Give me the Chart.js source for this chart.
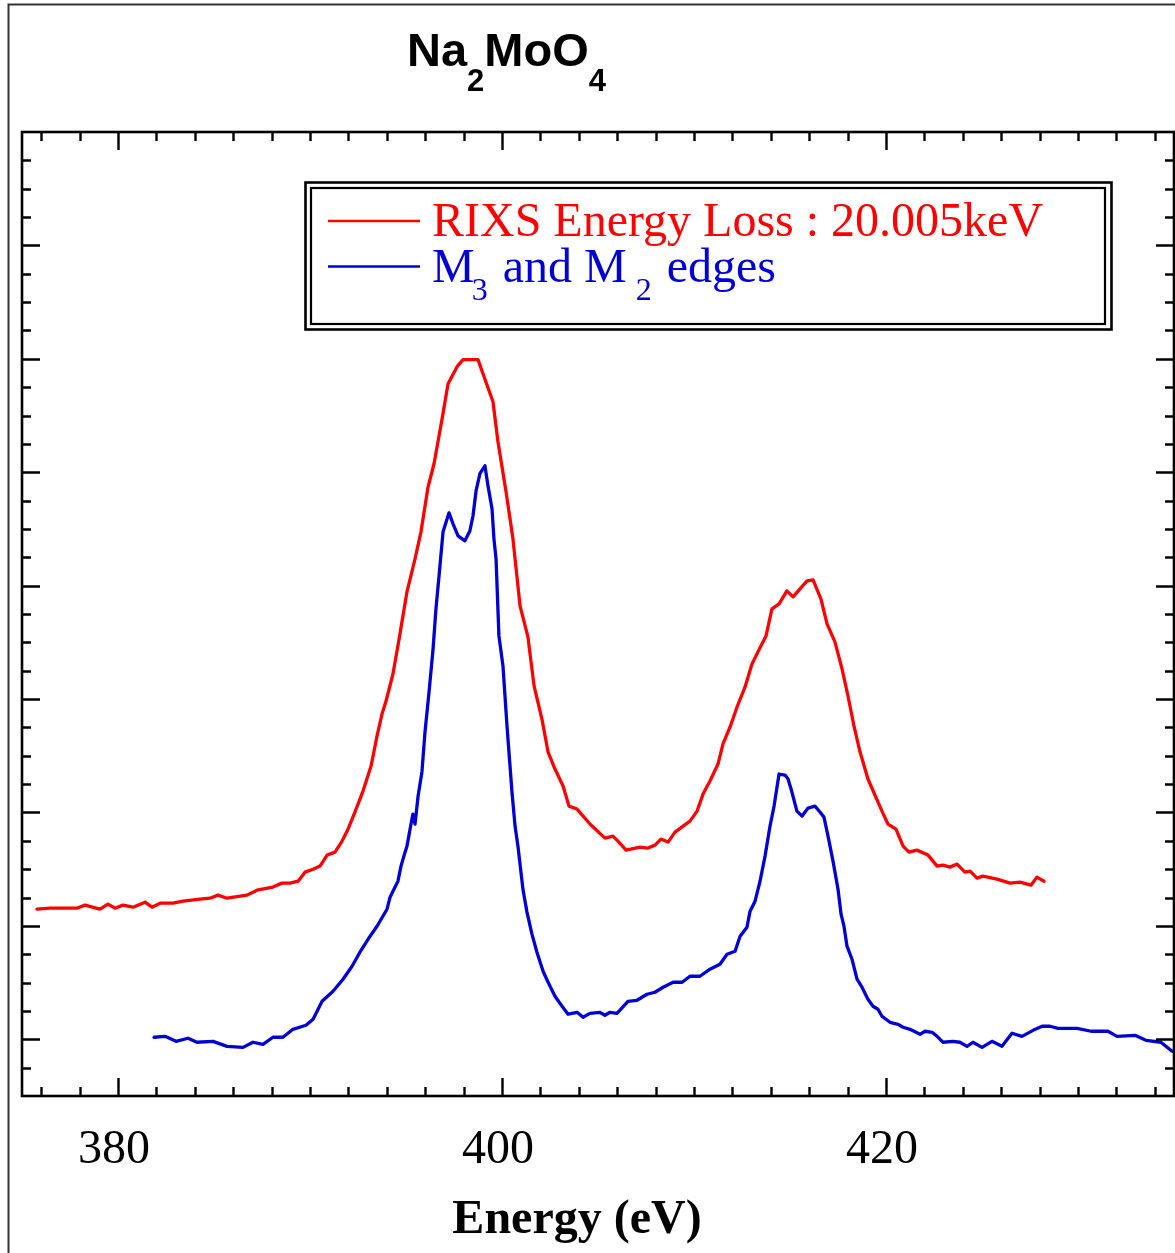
<!DOCTYPE html>
<html>
<head>
<meta charset="utf-8">
<script src="https://cdn.jsdelivr.net/npm/chart.js@4.4.1/dist/chart.umd.min.js"></script>
<style>
html,body{margin:0;padding:0;background:#fff;}
#wrap{position:relative;width:1175px;height:1253px;}
</style>
</head>
<body>
<div id="wrap"><canvas id="c" width="1175" height="1253"></canvas></div>
<script>
// ---- data ----
const titleMain = ["Na", "MoO"];
const titleSubs = ["2", "4"];
const xLabel = "Energy (eV)";
const xTickLabels = [380, 400, 420];
const legendRed = "RIXS Energy Loss : 20.005keV";

const redEnergy = [375.78,376.46,377.86,378.28,379.06,379.48,379.84,380.26,380.78,381.41,381.77,382.19,382.86,383.39,384.27,384.79,385.21,385.68,386.72,387.24,388.07,388.54,388.96,389.38,389.74,390.16,390.52,390.89,391.30,391.67,391.98,392.34,392.76,393.18,393.49,393.75,393.96,394.32,394.64,395.05,395.47,395.78,396.15,396.46,396.88,397.19,397.66,397.97,398.75,399.53,399.79,400.21,400.57,400.94,401.35,401.67,402.08,402.40,402.76,403.18,403.49,403.91,404.58,405.36,405.78,406.04,406.46,407.19,407.60,407.97,408.28,408.65,409.01,409.43,409.79,410.16,410.47,410.83,411.25,411.51,411.88,412.24,412.66,413.02,413.33,413.75,414.06,414.43,414.84,415.16,415.52,415.89,416.20,416.61,416.93,417.34,417.71,418.02,418.33,418.65,419.06,419.79,420.10,420.52,420.89,421.20,421.61,422.19,422.66,422.97,423.33,423.70,424.11,424.38,424.74,425.05,425.78,426.46,426.98,427.55,427.86,428.23];
const redIntensity = [1.147,1.156,1.156,1.183,1.147,1.192,1.156,1.183,1.165,1.209,1.165,1.200,1.200,1.218,1.236,1.244,1.271,1.244,1.271,1.315,1.342,1.377,1.377,1.394,1.474,1.500,1.527,1.624,1.650,1.748,1.853,2.004,2.189,2.409,2.674,2.868,2.983,3.221,3.530,3.945,4.236,4.475,4.872,5.075,5.472,5.781,5.931,5.993,5.993,5.622,5.269,4.828,4.413,3.822,3.548,3.116,2.824,2.533,2.383,2.233,2.056,2.030,1.898,1.774,1.792,1.748,1.668,1.695,1.686,1.712,1.765,1.739,1.827,1.880,1.924,2.012,2.162,2.277,2.427,2.604,2.754,2.930,3.107,3.310,3.416,3.557,3.795,3.839,3.954,3.901,3.972,4.042,4.051,3.883,3.663,3.504,3.266,3.027,2.763,2.533,2.295,2.012,1.898,1.853,1.703,1.650,1.668,1.624,1.527,1.536,1.518,1.545,1.474,1.483,1.421,1.439,1.412,1.377,1.386,1.359,1.430,1.394];

const blueEnergy = [381.88,382.45,383.02,383.65,384.11,384.95,385.68,386.51,387.03,387.55,388.07,388.59,389.11,389.79,390.16,390.63,391.20,391.72,392.19,392.60,393.13,393.49,394.01,394.17,394.43,394.58,394.74,394.95,395.05,395.26,395.36,395.47,395.63,395.83,395.99,396.20,396.41,396.56,396.72,396.93,397.24,397.45,397.71,398.07,398.33,398.49,398.65,398.85,399.11,399.27,399.48,399.58,399.69,399.84,400.05,400.26,400.52,400.68,400.83,401.09,401.30,401.56,401.82,402.14,402.40,402.76,403.13,403.44,403.91,404.22,404.58,405.10,405.36,405.63,405.99,406.56,407.03,407.55,407.97,408.39,408.91,409.38,409.79,410.31,410.83,411.35,411.72,412.14,412.40,412.76,412.92,413.18,413.44,413.70,413.96,414.17,414.43,414.74,414.90,415.10,415.36,415.63,415.94,416.30,416.56,416.77,416.98,417.24,417.50,417.66,417.81,417.97,418.23,418.49,418.75,419.06,419.32,419.58,419.79,420.21,420.63,420.89,421.25,421.77,422.03,422.40,422.66,422.97,423.49,423.85,424.22,424.53,425.00,425.52,426.04,426.56,427.08,427.66,428.13,428.54,428.96,429.95,430.68,431.56,432.03,432.97,433.54,434.32,434.90];
const blueIntensity = [0.018,0.026,-0.018,0.009,-0.026,-0.018,-0.062,-0.071,-0.026,-0.044,0.018,0.018,0.088,0.124,0.177,0.335,0.424,0.530,0.644,0.768,0.909,0.997,1.147,1.253,1.342,1.394,1.527,1.650,1.703,1.898,1.986,1.898,2.145,2.357,2.710,3.063,3.442,3.795,4.086,4.475,4.642,4.545,4.439,4.395,4.484,4.616,4.837,4.987,5.057,4.881,4.678,4.413,4.236,3.557,3.292,2.763,2.180,1.880,1.703,1.324,1.121,0.927,0.768,0.600,0.503,0.380,0.291,0.221,0.238,0.194,0.229,0.238,0.212,0.238,0.229,0.335,0.344,0.397,0.415,0.459,0.503,0.503,0.556,0.556,0.618,0.662,0.750,0.777,0.909,0.989,1.130,1.218,1.394,1.615,1.880,2.056,2.339,2.330,2.295,2.180,2.012,1.968,2.039,2.056,2.004,1.959,1.792,1.571,1.324,1.103,0.997,0.821,0.706,0.530,0.459,0.353,0.291,0.265,0.203,0.150,0.132,0.106,0.088,0.044,0.071,0.062,0.026,-0.026,-0.018,-0.026,-0.062,-0.026,-0.071,-0.018,-0.062,0.053,0.026,0.079,0.115,0.115,0.097,0.097,0.071,0.071,0.026,0.035,-0.009,-0.026,-0.106];

const xMin = 375, xMax = 435, yMin = -0.5, yMax = 8;

function pts(xs, ys){ return xs.map((x,i)=>({x:x, y:ys[i]})); }

const frame = {
  id: 'frame',
  afterDraw(chart){
    const ctx = chart.ctx, a = chart.chartArea;
    const xs = chart.scales.x, ys = chart.scales.y;
    ctx.save();
    // outer picture frame
    ctx.strokeStyle = '#333'; ctx.lineWidth = 2;
    ctx.strokeRect(8.5, 4.5, 1200, 1300);
    // plot frame
    ctx.strokeStyle = '#000'; ctx.lineWidth = 2.6;
    ctx.strokeRect(a.left, a.top, a.right - a.left, a.bottom - a.top);
    // x ticks (inward, top and bottom)
    ctx.lineWidth = 2.4;
    for (let v = 376; v <= 434; v += 2){
      const px = Math.round(xs.getPixelForValue(v)) + 0.5;
      const len = (v % 20 === 0) ? 18 : 9;
      ctx.beginPath();
      ctx.moveTo(px, a.bottom); ctx.lineTo(px, a.bottom - len);
      ctx.moveTo(px, a.top); ctx.lineTo(px, a.top + len);
      ctx.stroke();
    }
    // y ticks (inward, left and right)
    for (let k = -1; k <= 32; k++){
      const v = k * 0.25;
      if (v <= yMin || v >= yMax) continue;
      const py = Math.round(ys.getPixelForValue(v)) + 0.5;
      const len = (k % 4 === 0) ? 18 : 9;
      ctx.beginPath();
      ctx.moveTo(a.left, py); ctx.lineTo(a.left + len, py);
      ctx.moveTo(a.right, py); ctx.lineTo(a.right - len, py);
      ctx.stroke();
    }
    // x tick labels
    ctx.fillStyle = '#000';
    ctx.font = '48px "Liberation Serif", "Times New Roman", serif';
    ctx.textAlign = 'center'; ctx.textBaseline = 'alphabetic';
    xTickLabels.forEach(v => {
      ctx.fillText(String(v), xs.getPixelForValue(v) - 4, 1163);
    });
    // x axis title
    ctx.font = 'bold 48px "Liberation Serif", "Times New Roman", serif';
    ctx.fillText(xLabel, 577, 1233);
    // title Na2MoO4
    ctx.textAlign = 'left';
    let tx = 407;
    for (let i = 0; i < titleMain.length; i++){
      ctx.font = 'bold 47px "Liberation Sans", Arial, sans-serif';
      ctx.fillText(titleMain[i], tx, 66);
      tx += ctx.measureText(titleMain[i]).width;
      ctx.font = 'bold 31px "Liberation Sans", Arial, sans-serif';
      ctx.fillText(titleSubs[i], tx, 91);
      tx += ctx.measureText(titleSubs[i]).width;
    }
    // legend box (double border)
    ctx.fillStyle = '#fff';
    ctx.fillRect(305, 182, 806, 148);
    ctx.strokeStyle = '#000';
    ctx.lineWidth = 2.6;
    ctx.strokeRect(305.5, 182.5, 806, 147);
    ctx.lineWidth = 2.2;
    ctx.strokeRect(311, 188, 794, 136);
    // legend samples
    const ds = chart.data.datasets;
    ctx.lineWidth = 2.6;
    ctx.strokeStyle = ds[0].borderColor;
    ctx.beginPath(); ctx.moveTo(328, 221); ctx.lineTo(420, 221); ctx.stroke();
    ctx.strokeStyle = ds[1].borderColor;
    ctx.beginPath(); ctx.moveTo(328, 266.5); ctx.lineTo(420, 266.5); ctx.stroke();
    // legend texts
    const big = '48px "Liberation Serif", "Times New Roman", serif';
    const small = '32px "Liberation Serif", "Times New Roman", serif';
    ctx.fillStyle = ds[0].borderColor;
    ctx.font = big;
    ctx.fillText(legendRed, 432, 236);
    ctx.fillStyle = ds[1].borderColor;
    const parts = [["M", big, 0], ["3", small, 18], [" and M ", big, 0], ["2", small, 18], [" edges", big, 0]];
    let lx = 432;
    parts.forEach(p => {
      ctx.font = p[1];
      const w = ctx.measureText(p[0]).width;
      ctx.fillText(p[0], lx - (p[1] === small ? 3 : 0), 282 + p[2]);
      lx += w;
    });
    ctx.restore();
  }
};

new Chart(document.getElementById('c'), {
  type: 'line',
  data: {
    datasets: [
      { label: legendRed, data: pts(redEnergy, redIntensity), borderColor: '#ff0000', borderWidth: 3.3, pointRadius: 0, tension: 0, fill: false, borderJoinStyle: 'round', borderCapStyle: 'round' },
      { label: 'M3 and M2 edges', data: pts(blueEnergy, blueIntensity), borderColor: '#0000d0', borderWidth: 3.3, pointRadius: 0, tension: 0, fill: false, borderJoinStyle: 'round', borderCapStyle: 'round' }
    ]
  },
  options: {
    responsive: false,
    animation: false,
    layout: { padding: { left: 22, top: 132, right: 1, bottom: 157 } },
    plugins: { legend: { display: false }, tooltip: { enabled: false }, title: { display: false } },
    scales: {
      x: { type: 'linear', min: xMin, max: xMax, display: false },
      y: { type: 'linear', min: yMin, max: yMax, display: false }
    }
  },
  plugins: [frame]
});
</script>
</body>
</html>
